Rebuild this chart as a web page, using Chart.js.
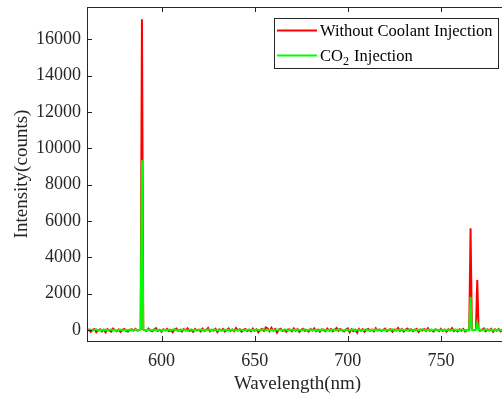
<!DOCTYPE html>
<html>
<head>
<meta charset="utf-8">
<script src="https://cdn.jsdelivr.net/npm/chart.js@4.4.1/dist/chart.umd.min.js"></script>
<style>
  html, body { margin: 0; padding: 0; background: #fff; overflow: hidden; }
  #wrap { width: 502px; height: 394px; overflow: hidden; }
</style>
</head>
<body>
<div id="wrap"><canvas id="spectrum" width="512" height="394"></canvas></div>
<script>
// wavelength grid of the baseline samples (1 nm steps)
const wlStart = 560
const wlEnd = 786

const xTicks = [600, 650, 700, 750]
const yTicks = [0, 2000, 4000, 6000, 8000, 10000, 12000, 14000, 16000]

const seriesLabels = ['Without Coolant Injection', 'CO₂ Injection']
const seriesColors = ['#ff0000', '#00ff00']

// baseline noise, one value per nm from 560 to 786
const redBaseline = [
  -40, 30, -90, 10, 60, -110, -20, 40, -70, 20,      // 560
  -130, 50, -30, -90, 80, -10, -60, 30, -100, 20,    // 570
  60, -40, -80, 10, 40, -20, 70, -30, 0, 0,          // 580
  0, 0, -50, 90, -20, -70, 30, 110, -40, 20,         // 590
  -90, 40, -10, 70, -60, 10, -120, 30, 90, -30,      // 600
  20, -80, 50, -20, 100, -50, 10, -100, 60, -10,     // 610
  30, -70, 80, -40, 10, 120, -60, 20, -30, 70,       // 620
  -110, 40, -20, 60, -80, 10, 90, -40, 30, -60,      // 630
  110, -20, 40, -90, 20, 60, -50, 10, -70, 80,       // 640
  -30, 40, -120, 10, 70, -40, 150, 90, -60, 130,     // 650
  -20, 60, -140, 30, 80, -50, 10, -90, 40, 20,       // 660
  -60, 90, -30, 50, -100, 20, 70, -40, 10, -80,      // 670
  60, -20, 100, -50, 30, -90, 40, 10, -60, 80,       // 680
  -30, 50, -70, 20, 110, -40, 60, -10, -80, 30,      // 690
  90, -120, 40, -60, 20, -140, 70, -30, 50, -90,     // 700
  10, 60, -40, 30, -70, 100, -20, 40, -50, 20,       // 710
  80, -60, 10, 50, -90, 30, -20, 120, -40, 60,       // 720
  -80, 20, 90, -30, 40, -60, 10, 70, -100, 30,       // 730
  -20, 60, -50, 100, -30, 20, -80, 40, 10, -60,      // 740
  70, -40, 30, -90, 50, -20, 110, -50, 20, -70,      // 750
  40, -30, 60, -80, 10, 0, 0, 0, 0, 0,               // 760
  0, -40, 20, 90, -60, 30, -20, 70, -90, 40,         // 770
  -30, 60, -70, 20, 50, -40, 10                      // 780
]
const greenBaseline = [
  20, -10, 30, -20, 10, 40, -30, 0, 20, -10,         // 560
  30, -20, 10, 40, -10, 20, -30, 10, 30, -20,        // 570
  0, 20, -10, 30, -20, 10, 40, -10, 0, 0,            // 580
  0, 10, -20, 30, 10, -10, 40, -20, 20, 0,           // 590
  -30, 20, 10, -10, 30, -20, 20, 40, -10, 10,        // 600
  -20, 30, 0, 20, -30, 10, 40, -10, 20, -20,         // 610
  10, 30, -10, 20, -20, 40, 0, -10, 30, 10,          // 620
  -20, 20, 10, -30, 30, 0, 20, -10, 40, -20,         // 630
  10, -10, 30, 20, -20, 10, 0, 40, -10, 20,          // 640
  -20, 30, 10, -10, 20, 40, -10, 30, 0, 20,          // 650
  10, -20, 30, 0, 20, -10, 40, 10, -20, 30,          // 660
  0, 20, -10, 30, 10, -20, 20, 40, -10, 0,           // 670
  30, -10, 20, 10, -30, 20, 0, 40, -10, 10,          // 680
  20, -20, 30, 10, -10, 40, 0, 20, -20, 30,          // 690
  10, -10, 20, 40, -20, 10, 30, 0, -10, 20,          // 700
  30, -20, 10, 20, -10, 40, 0, 30, -20, 10,          // 710
  20, -10, 30, 0, 40, -20, 10, 20, -10, 30,          // 720
  0, 20, -20, 40, 10, -10, 30, 0, 20, -10,           // 730
  40, 10, -20, 30, 0, 20, -10, 40, 10, -20,          // 740
  30, 0, 20, -10, 40, -20, 10, 30, 0, 20,            // 750
  -10, 30, 10, -20, 20, 0, 0, 0, 0, 0,               // 760
  0, 30, -10, 20, 40, -10, 10, 30, -20, 20,          // 770
  0, 40, -10, 20, 10, -20, 30                        // 780
]

// emission lines: [wavelength, counts] (Na D near 589 nm, K doublet near 766/770 nm)
const redPeaks = [
  [[588.8, 60], [589.5, 17100], [590.2, 50]],
  [[765.2, 30], [765.9, 5600], [766.6, 60]],
  [[768.8, 40], [769.5, 2750], [770.2, 50]]
]
const greenPeaks = [
  [[588.8, 40], [589.5, 9350], [590.2, 30]],
  [[765.2, 20], [765.9, 1830], [766.6, 30]],
  [[768.8, 20], [769.5, 400], [770.2, 20]]
]

// merge baseline and peak samples into one sorted {x, y} list
function buildSpectrum(baseline, peaks) {
  let points = []
  baseline.forEach((v, i) => {
    const wl = wlStart + i
    const insidePeak = peaks.some(p => wl >= p[0][0] && wl <= p[p.length - 1][0])
    if (!insidePeak) points.push({ x: wl, y: v })
  })
  peaks.forEach(p => p.forEach(([x, y]) => points.push({ x, y })))
  return points.sort((a, b) => a.x - b.x)
}

const axisColor = '#262626'
const serif = "'Liberation Serif', 'Times New Roman', serif"

// box around the plot, inward tick marks on all four sides, and the legend
const boxAndLegend = {
  id: 'boxAndLegend',
  afterDraw(chart) {
    const ctx = chart.ctx
    const a = chart.chartArea
    const xs = chart.scales.x
    const ys = chart.scales.y
    ctx.save()
    ctx.strokeStyle = axisColor
    ctx.lineWidth = 1
    ctx.strokeRect(Math.round(a.left) + 0.5, Math.round(a.top) + 0.5,
      Math.round(a.right - a.left), Math.round(a.bottom - a.top))
    ctx.beginPath()
    xTicks.forEach(t => {
      const x = Math.round(xs.getPixelForValue(t)) + 0.5
      ctx.moveTo(x, a.bottom); ctx.lineTo(x, a.bottom - 5)
      ctx.moveTo(x, a.top); ctx.lineTo(x, a.top + 5)
    })
    yTicks.forEach(t => {
      const y = Math.round(ys.getPixelForValue(t)) + 0.5
      ctx.moveTo(a.left, y); ctx.lineTo(a.left + 5, y)
      ctx.moveTo(a.right, y); ctx.lineTo(a.right - 5, y)
    })
    ctx.stroke()

    // legend box
    const lx = a.left + 187, ly = a.top + 11, lw = 224, lh = 50
    ctx.fillStyle = '#fff'
    ctx.fillRect(lx, ly, lw, lh)
    ctx.strokeRect(lx + 0.5, ly + 0.5, lw, lh)
    ctx.textBaseline = 'middle'
    seriesLabels.forEach((label, i) => {
      const y = ly + 12.5 + i * 25
      ctx.strokeStyle = seriesColors[i]
      ctx.lineWidth = 2
      ctx.beginPath()
      ctx.moveTo(lx + 3, y); ctx.lineTo(lx + 43, y)
      ctx.stroke()
      ctx.fillStyle = '#000'
      let tx = lx + 46
      const parts = label.split('₂')
      parts.forEach((part, k) => {
        ctx.font = '16.5px ' + serif
        ctx.fillText(part, tx, y + 1)
        tx += ctx.measureText(part).width
        if (k < parts.length - 1) {
          ctx.font = '12px ' + serif
          ctx.fillText('2', tx, y + 6)
          tx += ctx.measureText('2').width + 1
        }
      })
    })
    ctx.restore()
  }
}

// drop the automatic half-label padding so the plot box keeps its size
function fixPadding(s) {
  s.paddingTop = 0
  s.paddingBottom = 0
  s.paddingLeft = 0
  s.paddingRight = 0
}

const redData = buildSpectrum(redBaseline, redPeaks)
const greenData = buildSpectrum(greenBaseline, greenPeaks)

new Chart(document.getElementById('spectrum'), {
  type: 'line',
  data: {
    datasets: [
      { label: seriesLabels[0], data: redData, borderColor: seriesColors[0], borderWidth: 2, order: 1 },
      { label: seriesLabels[1], data: greenData, borderColor: seriesColors[1], borderWidth: 2, order: 0 }
    ]
  },
  options: {
    responsive: false,
    animation: false,
    devicePixelRatio: 1,
    layout: { padding: { top: 7, right: 4, left: 0, bottom: 0 } },
    elements: { point: { radius: 0 }, line: { tension: 0 } },
    plugins: { legend: { display: false }, tooltip: { enabled: false } },
    scales: {
      x: {
        type: 'linear',
        min: wlStart,
        max: wlEnd,
        afterBuildTicks: s => { s.ticks = xTicks.map(v => ({ value: v })) },
        afterFit: s => { s.height = 53; fixPadding(s) },
        grid: { display: false, drawTicks: false },
        border: { display: false },
        ticks: { color: axisColor, padding: 9, font: { family: serif, size: 18 }, maxRotation: 0 },
        title: { display: true, text: 'Wavelength(nm)', color: axisColor,
          font: { family: serif, size: 19, lineHeight: 1 }, padding: 0 }
      },
      y: {
        min: -600,
        max: 17780,
        afterBuildTicks: s => { s.ticks = yTicks.map(v => ({ value: v })) },
        afterFit: s => { s.width = 87; fixPadding(s) },
        grid: { display: false, drawTicks: false },
        border: { display: false },
        ticks: { color: axisColor, padding: 6, font: { family: serif, size: 18 }, callback: v => String(v) },
        title: { display: true, text: 'Intensity(counts)', color: axisColor,
          font: { family: serif, size: 19, lineHeight: 1 }, padding: { top: 13, bottom: 0 } }
      }
    }
  },
  plugins: [boxAndLegend]
})
</script>
</body>
</html>
